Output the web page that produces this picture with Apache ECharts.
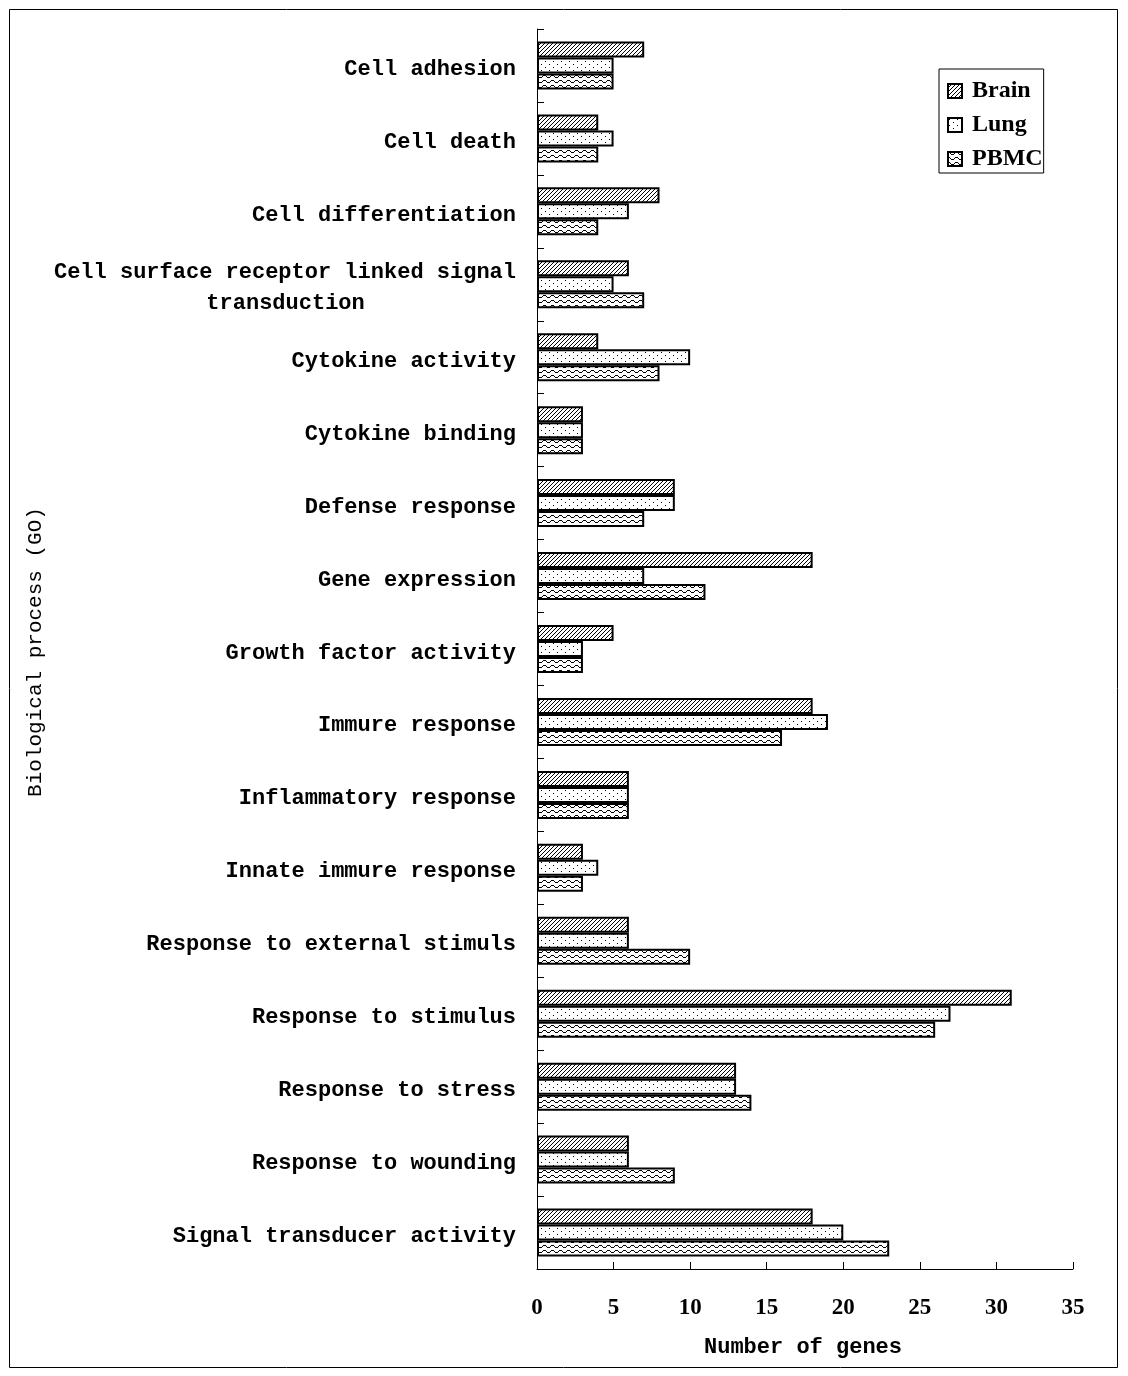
<!DOCTYPE html>
<html><head><meta charset="utf-8">
<script src="https://cdn.jsdelivr.net/npm/echarts@6/dist/echarts.min.js"></script>
<style>html,body{margin:0;padding:0;background:#fff}#c{width:1128px;height:1376px}</style>
</head><body><div id="c"></div>
<script>
const categories = ["Cell adhesion","Cell death","Cell differentiation","Cell surface receptor linked signal transduction","Cytokine activity","Cytokine binding","Defense response","Gene expression","Growth factor activity","Immure response","Inflammatory response","Innate immure response","Response to external stimuls","Response to stimulus","Response to stress","Response to wounding","Signal transducer activity"];
const brain = [7,4,8,6,4,3,9,18,5,18,6,3,6,31,13,6,18];
const lung  = [5,5,6,5,10,3,9,7,3,19,6,4,6,27,13,6,20];
const pbmc  = [5,4,4,7,8,3,7,11,3,16,6,3,10,26,14,9,23];
const xTicks = [0,5,10,15,20,25,30,35];

function mk(w,h,pts){
  const c=document.createElement('canvas');c.width=w;c.height=h;
  const g=c.getContext('2d');g.fillStyle='#fff';g.fillRect(0,0,w,h);
  g.fillStyle='#000';pts.forEach(p=>g.fillRect(p[0],p[1],1,1));
  return {image:c,repeat:'repeat'};
}
const hatch = mk(4,4,[[3,0],[2,1],[1,2],[0,3]]);
const dots = mk(8,6,[[1,1],[5,4]]);
const wave = mk(8,5,[[0,0],[1,0],[2,1],[3,2],[4,2],[5,2],[6,1],[7,0]]);

const lab = {fontFamily:'Liberation Mono',fontWeight:'bold',fontSize:22,color:'#000'};
const chart = echarts.init(document.getElementById('c'),null,{renderer:'canvas'});
function s(name,data,pat){
  return {name,type:'bar',data,barWidth:16,barGap:'0%',
    itemStyle:{color:pat,borderColor:'#000',borderWidth:2},animation:false};
}
const longCat = "Cell surface receptor linked signal transduction";
chart.setOption({
  animation:false,
  backgroundColor:'#fff',
  grid:{left:537,right:55,top:29,bottom:107,containLabel:false},
  legend:{orient:'vertical',left:939,top:69,padding:[10,1,2,8],itemGap:10,icon:'rect',
    borderColor:'#000',borderWidth:1,itemWidth:14,itemHeight:14,
    textStyle:{fontFamily:'Liberation Serif',fontWeight:'bold',fontSize:24,color:'#000',padding:[0,0,0,5]},
    data:['Brain','Lung','PBMC']},
  xAxis:{type:'value',min:0,max:35,interval:5,
    axisLine:{show:true,lineStyle:{color:'#000',width:1}},
    axisTick:{show:true,inside:true,length:7,lineStyle:{color:'#000'}},
    splitLine:{show:false},
    axisLabel:Object.assign({margin:28,formatter:v=>xTicks.includes(v)?String(v):''},lab,{fontFamily:'Liberation Serif',fontSize:23})},
  yAxis:{type:'category',inverse:true,data:categories,
    axisLine:{show:true,lineStyle:{color:'#000',width:1}},
    axisTick:{show:true,inside:true,length:7,lineStyle:{color:'#000'}},
    axisLabel:Object.assign({margin:21,
      formatter:v=>v===longCat?"{c|Cell surface receptor linked signal}\n{d|transduction           }":"{a|"+v+"}",
      rich:{
        a:Object.assign({lineHeight:23,padding:[8,0,0,0]},lab),
        c:Object.assign({lineHeight:31,padding:[8,0,0,0]},lab),
        d:Object.assign({lineHeight:31,padding:[8,6,0,0]},lab)
      }},lab)},
  series:[s('Brain',brain,hatch),s('Lung',lung,dots),s('PBMC',pbmc,wave)],
  graphic:[
    {type:'rect',shape:{x:9.5,y:9.5,width:1108,height:1358},style:{fill:null,stroke:'#000',lineWidth:1},silent:true},
    {type:'text',x:803,y:1347,style:{text:'Number of genes',fontFamily:'Liberation Mono',fontWeight:'bold',fontSize:22,fill:'#000',align:'center',verticalAlign:'middle'}},
    {type:'text',x:35,y:652,rotation:Math.PI/2,style:{text:'Biological process (GO)',fontFamily:'Liberation Mono',fontSize:21,fill:'#000',align:'center',verticalAlign:'middle'}}
  ]
});
</script></body></html>
